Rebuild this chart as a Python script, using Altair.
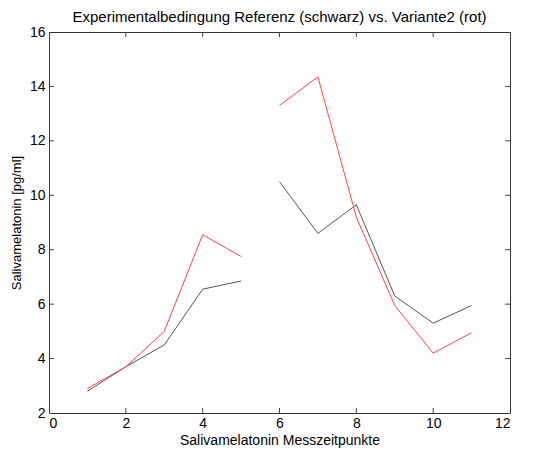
import altair as alt
import pandas as pd

x_vals = [1, 2, 3, 4, 5, 6, 7, 8, 9, 10, 11]
referenz = [2.8, 3.7, 4.5, 6.55, 6.85, 10.5, 8.6, 9.65, 6.3, 5.3, 5.95]
variante2 = [2.9, 3.7, 5.0, 8.55, 7.75, 13.3, 14.35, 9.2, 5.95, 4.2, 4.95]
segment = ["a", "a", "a", "a", "a", "b", "b", "b", "b", "b", "b"]
x_ticks = [0, 2, 4, 6, 8, 10, 12]
y_ticks = [2, 4, 6, 8, 10, 12, 14, 16]

W, H = 461, 381
FONT = "Liberation Sans"

rows = []
for s, col in (("Referenz", referenz), ("Variante2", variante2)):
    for x, y, seg in zip(x_vals, col, segment):
        rows.append({"x": x, "y": y, "series": s, "seg": s + seg})
df = pd.DataFrame(rows)

xs = alt.Scale(domain=[0, 12], nice=False, zero=False)
ys = alt.Scale(domain=[2, 16], nice=False, zero=False)

lines = alt.Chart(df).mark_line(strokeWidth=1).encode(
    x=alt.X("x:Q", scale=xs, axis=alt.Axis(
        values=x_ticks, title="Salivamelatonin Messzeitpunkte", grid=False,
        ticks=False, domain=False, labelFontSize=14, labelPadding=3,
        titleFontSize=14, titleFont=FONT, labelFont=FONT, titleFontWeight="normal",
        titlePadding=3, labelColor="black", titleColor="black")),
    y=alt.Y("y:Q", scale=ys, axis=alt.Axis(
        values=y_ticks, title="Salivamelatonin [pg/ml]", grid=False,
        ticks=False, domain=False, labelFontSize=14, labelPadding=4,
        titleFontSize=13, titleFont=FONT, labelFont=FONT, titleFontWeight="normal",
        titlePadding=6, labelColor="black", titleColor="black")),
    color=alt.Color("series:N", scale=alt.Scale(domain=["Referenz", "Variante2"],
                                                 range=["#555555", "#ff4444"]), legend=None),
    detail="seg:N",
)

xt = pd.DataFrame({"t": x_ticks[1:-1]})
yt = pd.DataFrame({"t": y_ticks[1:-1]})
tick_color = "#444444"
xb = alt.Chart(xt).mark_rule(color=tick_color).encode(x=alt.X("t:Q", scale=xs), y=alt.value(H), y2=alt.value(H - 5))
xtop = alt.Chart(xt).mark_rule(color=tick_color).encode(x=alt.X("t:Q", scale=xs), y=alt.value(0), y2=alt.value(5))
yl = alt.Chart(yt).mark_rule(color=tick_color).encode(y=alt.Y("t:Q", scale=ys), x=alt.value(0), x2=alt.value(5))
yr = alt.Chart(yt).mark_rule(color=tick_color).encode(y=alt.Y("t:Q", scale=ys), x=alt.value(W), x2=alt.value(W - 5))

chart = alt.layer(lines, xb, xtop, yl, yr).properties(
    width=W, height=H,
    title=alt.TitleParams("Experimentalbedingung Referenz (schwarz) vs. Variante2 (rot)",
                          font=FONT, fontSize=15, fontWeight="normal", color="black", offset=0),
    autosize=alt.AutoSizeParams(type="none"),
    padding={"left": 41, "top": 24, "right": 25, "bottom": 35},
).configure_view(stroke="#333333", strokeWidth=1)

chart.save("out.html", embed_options={"renderer": "svg", "actions": False})
